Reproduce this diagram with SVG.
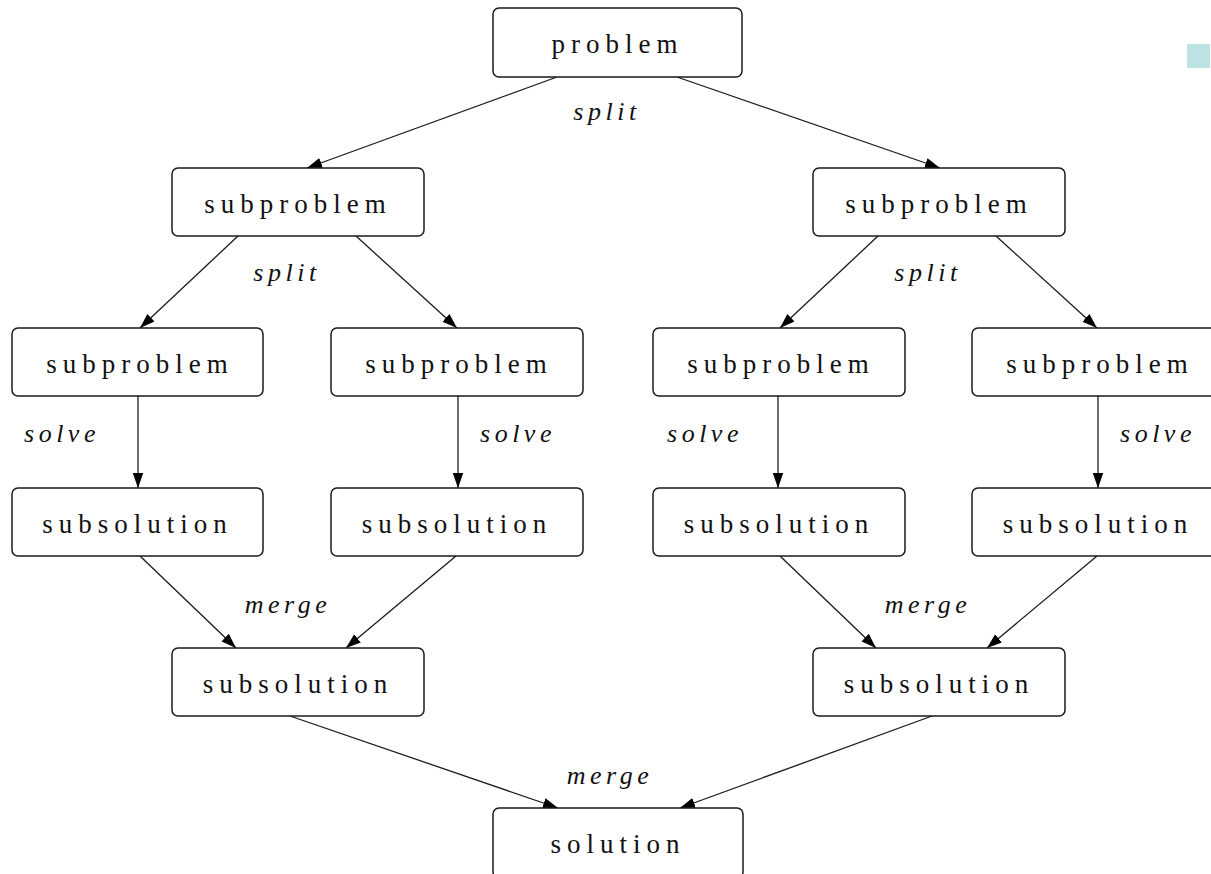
<svg xmlns="http://www.w3.org/2000/svg" width="1211" height="874" viewBox="0 0 1211 874">
<defs>
<style>
.box{fill:#fff;stroke:#1a1a1a;stroke-width:1.5}
.t{font-family:"Liberation Serif","DejaVu Serif",serif;font-size:27px;letter-spacing:6px;text-anchor:middle;fill:#111}
.l{font-family:"Liberation Serif","DejaVu Serif",serif;font-style:italic;font-size:26px;letter-spacing:4.5px;text-anchor:middle;fill:#111}
.c{stroke:#1a1a1a;stroke-width:1.3;fill:none;marker-end:url(#ah)}
</style>
<marker id="ah" viewBox="0 0 10 10" refX="10" refY="5" markerWidth="15" markerHeight="15" markerUnits="userSpaceOnUse" orient="auto">
<path d="M0,1.5 L10,5 L0,8.5 z" fill="#000"/>
</marker>
</defs>
<rect x="1187" y="44" width="23" height="24" fill="#bde2e6"/>
<g id="connectors">
<line class="c" x1="557" y1="77" x2="307" y2="168"/>
<line class="c" x1="677" y1="77" x2="940" y2="168"/>
<line class="c" x1="238" y1="236" x2="140" y2="328"/>
<line class="c" x1="356" y1="236" x2="457" y2="328"/>
<line class="c" x1="878" y1="236" x2="780" y2="328"/>
<line class="c" x1="996" y1="236" x2="1097" y2="328"/>
<line class="c" x1="138" y1="396" x2="138" y2="488"/>
<line class="c" x1="458" y1="396" x2="458" y2="488"/>
<line class="c" x1="778" y1="396" x2="778" y2="488"/>
<line class="c" x1="1098" y1="396" x2="1098" y2="488"/>
<line class="c" x1="140" y1="556" x2="236" y2="648"/>
<line class="c" x1="456" y1="556" x2="346" y2="648"/>
<line class="c" x1="780" y1="556" x2="876" y2="648"/>
<line class="c" x1="1097" y1="556" x2="987" y2="648"/>
<line class="c" x1="290" y1="716" x2="558" y2="808"/>
<line class="c" x1="932" y1="716" x2="680" y2="808"/>
<text class="l" x="607" y="120">split</text>
<text class="l" x="287" y="281">split</text>
<text class="l" x="928" y="281">split</text>
<text class="l" x="62" y="442">solve</text>
<text class="l" x="518" y="442">solve</text>
<text class="l" x="705" y="442">solve</text>
<text class="l" x="1158" y="442">solve</text>
<text class="l" x="288" y="613">merge</text>
<text class="l" x="928" y="613">merge</text>
<text class="l" x="610" y="784">merge</text>
</g>
<g id="problem"><rect class="box" x="493" y="8" width="249" height="69" rx="6"/><text class="t" x="617.5" y="53">problem</text></g>
<g id="sub-l"><rect class="box" x="172" y="168" width="252" height="68" rx="6"/><text class="t" x="298" y="213">subproblem</text></g>
<g id="sub-r"><rect class="box" x="813" y="168" width="252" height="68" rx="6"/><text class="t" x="939" y="213">subproblem</text></g>
<g id="sub-ll"><rect class="box" x="12" y="328" width="251" height="68" rx="6"/><text class="t" x="140" y="373">subproblem</text></g>
<g id="sub-lr"><rect class="box" x="331" y="328" width="252" height="68" rx="6"/><text class="t" x="459" y="373">subproblem</text></g>
<g id="sub-rl"><rect class="box" x="653" y="328" width="252" height="68" rx="6"/><text class="t" x="781" y="373">subproblem</text></g>
<g id="sub-rr"><rect class="box" x="972" y="328" width="252" height="68" rx="6"/><text class="t" x="1100" y="373">subproblem</text></g>
<g id="sol-ll"><rect class="box" x="12" y="488" width="251" height="68" rx="6"/><text class="t" x="137.5" y="533">subsolution</text></g>
<g id="sol-lr"><rect class="box" x="331" y="488" width="252" height="68" rx="6"/><text class="t" x="457" y="533">subsolution</text></g>
<g id="sol-rl"><rect class="box" x="653" y="488" width="252" height="68" rx="6"/><text class="t" x="779" y="533">subsolution</text></g>
<g id="sol-rr"><rect class="box" x="972" y="488" width="252" height="68" rx="6"/><text class="t" x="1098" y="533">subsolution</text></g>
<g id="sol-l"><rect class="box" x="172" y="648" width="252" height="68" rx="6"/><text class="t" x="298" y="693">subsolution</text></g>
<g id="sol-r"><rect class="box" x="813" y="648" width="252" height="68" rx="6"/><text class="t" x="939" y="693">subsolution</text></g>
<g id="solution"><rect class="box" x="493" y="808" width="250" height="70" rx="6"/><text class="t" x="618" y="853">solution</text></g>
</svg>
